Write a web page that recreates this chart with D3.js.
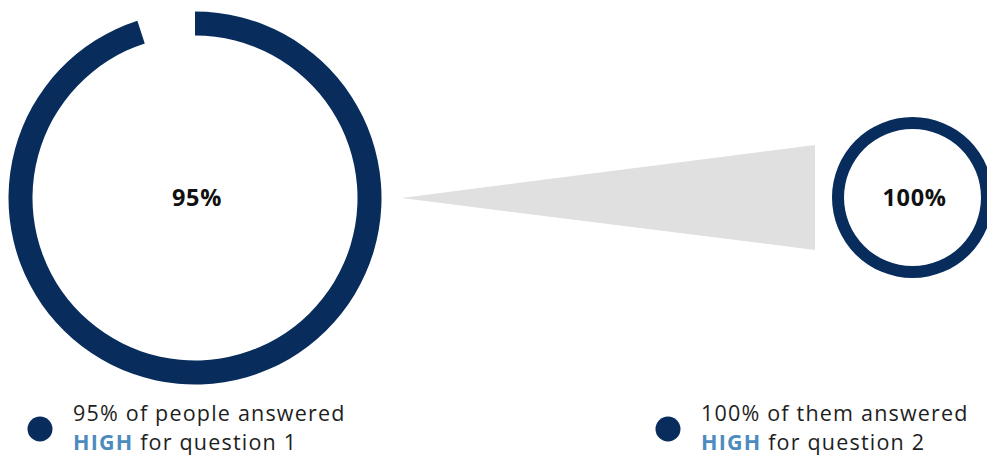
<!DOCTYPE html>
<html>
<head>
<meta charset="utf-8">
<script src="https://cdn.jsdelivr.net/npm/d3@7"></script>
<style>
  html, body { margin: 0; padding: 0; background: #ffffff; }
  svg { display: block; }
  text { font-family: "Open Sans", "Noto Sans", sans-serif; }
</style>
</head>
<body>
<svg id="chart" width="987" height="458"></svg>
<script>
// ---- data ----
const questions = ["question 1", "question 2"];
const values = [95, 100];
const valueLabels = ["95%", "100%"];
const legendLine1 = ["95% of people answered", "100% of them answered"];
const legendHighlight = ["HIGH", "HIGH"];
const legendLine2 = [" for question 1", " for question 2"];

// ---- style ----
const navy = "#082c5c";
const highBlue = "#4d8bbf";
const textColor = "#1e1e1e";
const connectorColor = "#e0e0e0";

const W = 987, H = 458;
const svg = d3.select("#chart");

// layout of the two donuts
const donuts = [
  { cx: 195, cy: 198, outer: 186.5, thick: 24 },
  { cx: 912.5, cy: 197.5, outer: 80.5, thick: 12 }
];

const angle = d3.scaleLinear().domain([0, 100]).range([0, 2 * Math.PI]);

// connector (funnel) from big donut to small donut
const tipX = donuts[0].cx + donuts[0].outer + 20;
const baseX = donuts[1].cx - donuts[1].outer - 17;
const halfBase = 52.5;
svg.append("path")
  .attr("d", d3.line()([
    [tipX, donuts[0].cy],
    [baseX, donuts[1].cy - halfBase],
    [baseX, donuts[1].cy + halfBase]
  ]) + "Z")
  .attr("fill", connectorColor);

values.forEach((v, i) => {
  const d = donuts[i];
  const arc = d3.arc()
    .innerRadius(d.outer - d.thick)
    .outerRadius(d.outer)
    .startAngle(angle(0))
    .endAngle(angle(v));
  const g = svg.append("g").attr("transform", `translate(${d.cx},${d.cy})`);
  g.append("path").attr("d", arc()).attr("fill", navy);
  g.append("text")
    .attr("x", 2)
    .attr("text-anchor", "middle")
    .attr("dy", "0.35em")
    .attr("font-size", 23.5)
    .attr("font-weight", 700)
    .attr("letter-spacing", "0.6px")
    .attr("fill", "#111")
    .text(valueLabels[i]);
});

// legends
const legendX = [40, 668];
const legendY = 429;
values.forEach((v, i) => {
  const g = svg.append("g");
  g.append("circle")
    .attr("cx", legendX[i]).attr("cy", legendY).attr("r", 12.5)
    .attr("fill", navy);
  const tx = legendX[i] + 33;
  g.append("text")
    .attr("x", tx).attr("y", 421)
    .attr("font-size", 21.5)
    .attr("letter-spacing", "1.2px")
    .attr("fill", textColor)
    .text(legendLine1[i]);
  const t2 = g.append("text")
    .attr("x", tx).attr("y", 450)
    .attr("font-size", 21.5)
    .attr("letter-spacing", "1.2px")
    .attr("fill", textColor);
  t2.append("tspan").attr("font-weight", 700).attr("fill", highBlue).text(legendHighlight[i]);
  t2.append("tspan").text(legendLine2[i]);
});
</script>
</body>
</html>
